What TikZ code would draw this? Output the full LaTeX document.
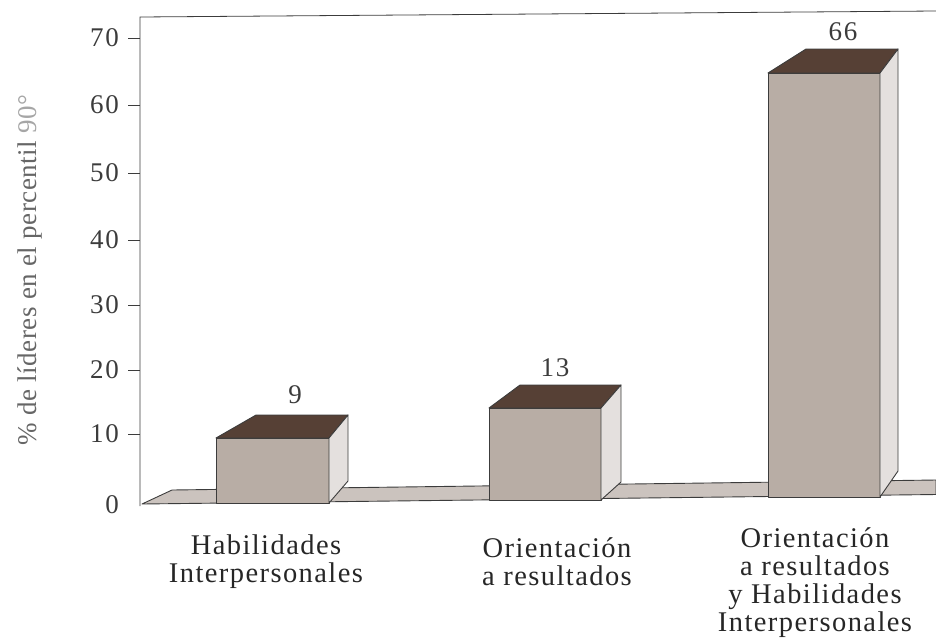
\documentclass[tikz,border=0pt]{standalone}
\usepackage{fontspec}
\setmainfont{Liberation Serif}
\newfontfamily\catfamily[LetterSpace=5]{Liberation Serif}
\newfontfamily\digfamily[LetterSpace=6]{Liberation Serif}
\newfontfamily\axfamily[LetterSpace=2]{Liberation Serif}
\definecolor{barfront}{RGB}{184,173,165}
\definecolor{bartop}{RGB}{86,64,53}
\definecolor{barside}{RGB}{228,224,222}
\definecolor{floorc}{RGB}{203,195,190}
\definecolor{inkc}{RGB}{60,60,60}
\newcommand\drawbar[8]{%
  \draw[barfrontf] (#1,#3) rectangle (#2,#4);
  \draw[bartopf] (#1,#3) -- (#5,#7) -- (#6,#7) -- (#2,#3) -- cycle;
  \draw[barsidef] (#2,#3) -- (#6,#7) -- (#6,#8) -- (#2,#4) -- cycle;}
\begin{document}
\begin{tikzpicture}[x=1pt,y=-1pt,
  edge/.style={draw=inkc, line width=0.9pt, line join=round},
  barfrontf/.style={edge, fill=barfront},
  bartopf/.style={edge, fill=bartop},
  barsidef/.style={edge, fill=barside},
  floorf/.style={edge, fill=floorc},
  axisline/.style={draw=inkc, line width=0.8pt},
  ticklab/.style={anchor=east, inner sep=0pt, text=inkc, font=\digfamily\fontsize{27}{30}\selectfont},
  vallab/.style={inner sep=0pt, text=inkc, font=\digfamily\fontsize{27}{30}\selectfont},
  catlab/.style={align=center, inner sep=0pt, text=black!85, font=\catfamily\fontsize{28.5}{28}\selectfont},
  ylab/.style={rotate=90, inner sep=0pt, text=black!60, font=\axfamily\fontsize{27}{30}\selectfont}]
\useasboundingbox (0,0) rectangle (936,638);
% floor
\draw[floorf] (142,504) -- (172,490) -- (936,480) -- (936,494.5) -- cycle;
% axes
\draw[axisline] (936,11) -- (140,17) -- (140,506);
\foreach \v/\yy in {10/434,20/370,30/305,40/240,50/173,60/105,70/38}{
  \draw[axisline] (128,\yy) -- (140,\yy);
  \node[ticklab] (t\v) at (119,\yy) {\v};
}
\node[ticklab] (t0) at (119,505) {0};
% bars
\drawbar{216}{329}{438}{503}{256}{348}{415}{481}
\drawbar{489}{601}{408}{500}{520}{621}{385}{482}
\drawbar{768}{880}{73}{497}{806}{898}{49}{471}
% value labels
\node[vallab] (v1) at (295,395) {9};
\node[vallab] (v2) at (555,368) {13};
\node[vallab] (v3) at (843,32) {66};
% category labels
\node[catlab] (c1) at (266,562) {Habilidades\\Interpersonales};
\node[catlab] (c2) at (557,562) {Orientación\\a resultados};
\node[catlab] (c3) at (815,583) {Orientación\\a resultados\\y Habilidades\\Interpersonales};
% y label
\node[ylab] (yl) at (30,270) {\% de líderes en el percentil {\color{black!35}90°}};
\end{tikzpicture}
\end{document}
